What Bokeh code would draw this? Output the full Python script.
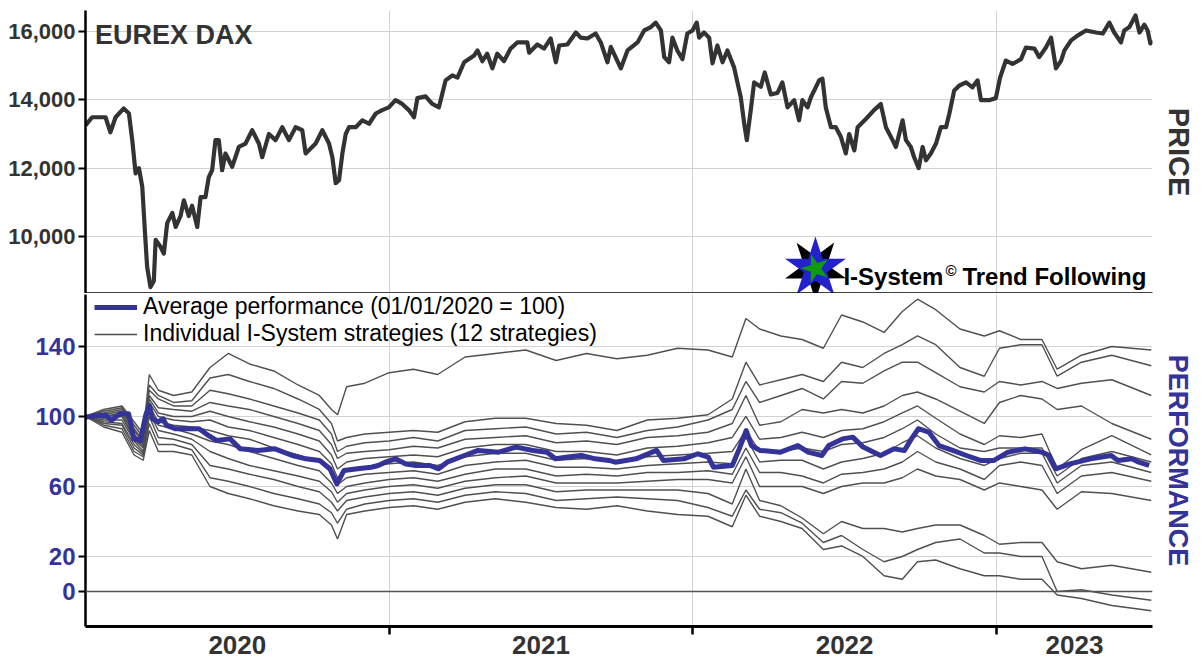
from bokeh.plotting import figure
from bokeh.models import (FixedTicker, LinearAxis, Range1d, Label, Span, Legend,
                          LegendItem, NumeralTickFormatter)
from bokeh.layouts import column
from bokeh.embed import file_html
from bokeh.resources import INLINE

# ---------------- DATA ----------------
price_t = [2020.000, 2020.022, 2020.066, 2020.082, 2020.099, 2020.126, 2020.143, 2020.154, 2020.165, 2020.176,
           2020.187, 2020.196, 2020.203, 2020.214, 2020.225, 2020.231, 2020.247, 2020.258, 2020.269, 2020.286,
           2020.297, 2020.313, 2020.324, 2020.340, 2020.351, 2020.368, 2020.379, 2020.395, 2020.406, 2020.417,
           2020.428, 2020.439, 2020.450, 2020.461, 2020.483, 2020.505, 2020.527, 2020.549, 2020.571, 2020.582,
           2020.604, 2020.626, 2020.648, 2020.670, 2020.692, 2020.714, 2020.725, 2020.758, 2020.780, 2020.802,
           2020.813, 2020.824, 2020.835, 2020.846, 2020.857, 2020.868, 2020.890, 2020.912, 2020.934, 2020.956,
           2020.977, 2020.999, 2021.021, 2021.043, 2021.065, 2021.082, 2021.093, 2021.120, 2021.142, 2021.164,
           2021.186, 2021.208, 2021.225, 2021.247, 2021.280, 2021.291, 2021.307, 2021.323, 2021.340, 2021.356,
           2021.378, 2021.400, 2021.422, 2021.455, 2021.461, 2021.488, 2021.510, 2021.532, 2021.549, 2021.560,
           2021.587, 2021.615, 2021.631, 2021.653, 2021.680, 2021.697, 2021.719, 2021.730, 2021.763, 2021.785,
           2021.818, 2021.840, 2021.862, 2021.878, 2021.895, 2021.906, 2021.922, 2021.933, 2021.949, 2021.966,
           2021.982, 2021.999, 2022.013, 2022.021, 2022.037, 2022.054, 2022.065, 2022.081, 2022.098, 2022.114,
           2022.136, 2022.147, 2022.158, 2022.171, 2022.178, 2022.191, 2022.202, 2022.224, 2022.237, 2022.257,
           2022.279, 2022.295, 2022.312, 2022.334, 2022.350, 2022.361, 2022.378, 2022.389, 2022.405, 2022.416,
           2022.427, 2022.438, 2022.455, 2022.471, 2022.488, 2022.504, 2022.515, 2022.532, 2022.543, 2022.570,
           2022.597, 2022.619, 2022.636, 2022.658, 2022.669, 2022.691, 2022.702, 2022.718, 2022.729, 2022.744,
           2022.757, 2022.768, 2022.784, 2022.801, 2022.817, 2022.834, 2022.845, 2022.861, 2022.878, 2022.900,
           2022.921, 2022.938, 2022.949, 2022.976, 2022.998, 2023.012, 2023.031, 2023.053, 2023.081, 2023.097,
           2023.125, 2023.141, 2023.163, 2023.180, 2023.196, 2023.213, 2023.224, 2023.246, 2023.267, 2023.295,
           2023.328, 2023.350, 2023.372, 2023.388, 2023.410, 2023.421, 2023.438, 2023.458, 2023.471, 2023.487,
           2023.498, 2023.507, 2023.514]
price_v = [13255, 13490, 13490, 13050, 13490, 13750, 13600, 12820, 11850, 12000,
           11450, 10100, 9110, 8520, 8700, 9900, 9700, 9500, 10390, 10690,
           10280, 10600, 11060, 10600, 10900, 10280, 11150, 11150, 11740, 11940,
           12820, 12820, 11940, 12430, 12040, 12620, 12720, 13110, 12720, 12320,
           13000, 12820, 13200, 12820, 13200, 13110, 12430, 12720, 13110, 12720,
           12320, 11560, 11650, 12430, 13000, 13200, 13200, 13400, 13300, 13600,
           13700, 13780, 13990, 13880, 13700, 13490, 14050, 14100, 13880, 13780,
           14570, 14715, 14650, 15100, 15300, 15445, 15130, 15350, 14920, 15350,
           15130, 15500, 15680, 15680, 15380, 15620, 15500, 15795, 15100, 15590,
           15620, 15970, 15820, 15795, 15940, 15680, 15100, 15550, 14920, 15445,
           15680, 16030, 16130, 16260, 16030, 15250, 15100, 15820, 15445, 15190,
           15940, 16030, 16260, 15820, 15970, 15820, 15070, 15590, 15100, 15445,
           14950, 14510, 14075, 13200, 12820, 13700, 14510, 14380, 14800, 14160,
           14200, 14510, 13780, 13990, 13400, 13990, 13780, 14075, 14365, 14570,
           14620, 13780, 13200, 13200, 12910, 12430, 13000, 12520, 13200, 13440,
           13700, 13880, 13200, 12820, 12620, 13400, 12820, 12620, 12320, 12000,
           12620, 12230, 12430, 12720, 13200, 13200, 13600, 14275, 14420, 14510,
           14365, 14570, 13990, 13990, 14050, 14650, 15150, 15050, 15190, 15530,
           15500, 15250, 15530, 15820, 14920, 15150, 15445, 15740, 15880, 16030,
           15970, 15940, 16260, 15970, 15680, 16030, 16130, 16470, 15970, 16200,
           16030, 15650, 15740]

avg_t = [2020.000, 2020.034, 2020.068, 2020.085, 2020.113, 2020.142, 2020.159, 2020.181, 2020.198, 2020.210,
         2020.221, 2020.238, 2020.255, 2020.267, 2020.295, 2020.340, 2020.374, 2020.397, 2020.431, 2020.476,
         2020.510, 2020.567, 2020.624, 2020.681, 2020.726, 2020.771, 2020.805, 2020.828, 2020.851, 2020.896,
         2020.941, 2020.964, 2020.987, 2021.021, 2021.055, 2021.089, 2021.134, 2021.163, 2021.191, 2021.248,
         2021.293, 2021.361, 2021.418, 2021.474, 2021.520, 2021.548, 2021.588, 2021.633, 2021.679, 2021.724,
         2021.745, 2021.813, 2021.881, 2021.903, 2021.971, 2022.017, 2022.051, 2022.068, 2022.130, 2022.153,
         2022.176, 2022.193, 2022.221, 2022.289, 2022.346, 2022.380, 2022.425, 2022.448, 2022.493, 2022.527,
         2022.561, 2022.618, 2022.663, 2022.697, 2022.720, 2022.743, 2022.777, 2022.811, 2022.856, 2022.901,
         2022.947, 2022.992, 2023.038, 2023.094, 2023.151, 2023.174, 2023.196, 2023.242, 2023.310, 2023.378,
         2023.400, 2023.446, 2023.469, 2023.503]
avg_v = [99.6, 100.6, 100.6, 97.7, 101.5, 101.5, 87.2, 86.3, 100.6, 106.3,
         98.7, 96.8, 98.7, 94.9, 93.0, 93.0, 93.0, 90.1, 86.3, 87.2,
         81.5, 80.6, 81.5, 77.7, 75.8, 74.9, 70.1, 61.5, 69.1, 70.1,
         71.0, 72.0, 73.9, 75.8, 72.9, 72.0, 72.0, 70.1, 73.9, 77.7,
         80.6, 79.6, 82.5, 80.6, 79.6, 75.8, 76.8, 77.7, 75.8, 74.9,
         73.9, 75.8, 80.6, 74.9, 75.8, 78.7, 76.8, 71.0, 72.0, 81.5,
         92.0, 83.4, 80.6, 79.6, 83.4, 79.6, 77.7, 83.4, 87.2, 88.2,
         82.5, 77.7, 81.5, 80.6, 87.2, 93.0, 91.1, 83.4, 80.6, 77.7,
         74.9, 74.9, 79.6, 81.5, 79.6, 77.7, 70.1, 72.9, 75.8, 77.7,
         74.9, 75.8, 73.9, 72.0]

strat_t = [2020.00, 2020.06, 2020.12, 2020.16, 2020.19, 2020.21, 2020.24, 2020.29, 2020.35, 2020.41,
           2020.47, 2020.54, 2020.62, 2020.70, 2020.77, 2020.81, 2020.83, 2020.86, 2020.92, 2021.00,
           2021.08, 2021.16, 2021.25, 2021.35, 2021.45, 2021.55, 2021.65, 2021.75, 2021.85, 2021.95,
           2022.05, 2022.13, 2022.175, 2022.22, 2022.29, 2022.36, 2022.43, 2022.49, 2022.56, 2022.63,
           2022.69, 2022.74, 2022.80, 2022.88, 2022.96, 2023.01, 2023.08, 2023.15, 2023.20, 2023.28,
           2023.38, 2023.51]
s1 = [100, 104, 106, 97, 90, 124, 115, 112, 114, 128, 136, 130, 126, 118, 112, 104, 101, 117, 119, 125,
      127, 124, 134, 136, 138, 132, 136, 133, 135, 139, 138, 134, 156, 150, 146, 144, 139, 158, 154, 148,
      160, 167, 161, 150, 146, 149, 144, 144, 127, 135, 140, 138]
s2 = [100, 103, 105, 95, 88, 118, 112, 108, 109, 122, 124, 120, 116, 110, 104, 96, 86, 88, 90, 91,
      92, 91, 97, 99, 99, 96, 95, 92, 98, 99, 101, 110, 131, 118, 121, 124, 120, 131, 128, 136,
      141, 146, 141, 128, 123, 139, 141, 141, 123, 131, 135, 129]
s3 = [100, 102, 104, 93, 86, 115, 110, 106, 106, 115, 113, 110, 106, 102, 98, 90, 80, 83, 85, 86,
      88, 86, 92, 93, 94, 90, 91, 88, 92, 94, 98, 104, 120, 108, 112, 116, 110, 120, 119, 126,
      131, 131, 125, 117, 114, 120, 118, 120, 116, 119, 121, 112]
s4 = [100, 101, 103, 92, 85, 112, 105, 104, 103, 108, 106, 104, 100, 96, 92, 84, 76, 79, 80, 81,
      83, 82, 87, 88, 89, 85, 86, 84, 88, 89, 91, 96, 112, 95, 97, 104, 102, 104, 102, 106,
      112, 114, 110, 103, 96, 108, 112, 110, 104, 106, 96, 87]
s5 = [100, 100, 102, 90, 84, 110, 102, 100, 100, 103, 100, 97, 94, 90, 86, 78, 70, 74, 76, 77,
      78, 77, 82, 84, 84, 80, 80, 78, 82, 83, 85, 88, 100, 87, 88, 91, 88, 92, 93, 97,
      102, 106, 99, 90, 84, 89, 88, 90, 70, 81, 89, 78]
s6 = [100, 100, 101, 88, 83, 108, 100, 98, 97, 98, 94, 92, 88, 84, 80, 73, 65, 69, 71, 73,
      74, 72, 77, 79, 79, 75, 76, 74, 77, 78, 79, 80, 92, 80, 80, 82, 80, 84, 85, 88,
      93, 98, 90, 82, 80, 82, 82, 82, 66, 76, 80, 74]
s7 = [100, 99, 100, 87, 82, 106, 97, 95, 94, 92, 89, 87, 82, 78, 74, 68, 61, 65, 67, 68,
      69, 67, 72, 74, 75, 71, 71, 70, 72, 73, 74, 73, 88, 74, 75, 75, 70, 74, 76, 79,
      85, 89, 82, 76, 72, 76, 79, 79, 62, 72, 74, 68]
s8 = [100, 98, 98, 86, 80, 104, 95, 93, 90, 86, 84, 80, 76, 72, 69, 62, 56, 60, 62, 64,
      65, 63, 67, 70, 70, 66, 67, 66, 68, 68, 69, 67, 82, 68, 68, 66, 62, 67, 68, 70,
      74, 80, 74, 70, 64, 72, 74, 72, 56, 66, 68, 63]
s9 = [100, 97, 96, 84, 79, 102, 92, 90, 87, 80, 76, 72, 69, 66, 63, 57, 51, 56, 58, 60,
      61, 59, 63, 65, 66, 62, 62, 62, 63, 64, 64, 62, 77, 60, 60, 60, 56, 60, 62, 62,
      65, 70, 66, 64, 58, 62, 60, 58, 47, 57, 56, 52]
s10 = [100, 96, 95, 82, 78, 100, 88, 87, 84, 72, 70, 67, 64, 60, 57, 51, 46, 52, 54, 56,
       57, 55, 59, 61, 61, 57, 58, 58, 58, 58, 56, 50, 70, 52, 49, 42, 33, 40, 36, 36,
       34, 36, 38, 38, 32, 27, 28, 28, 17, 13, 15, 11]
s11 = [100, 95, 93, 80, 77, 96, 84, 84, 81, 65, 63, 60, 56, 53, 50, 45, 39, 47, 50, 52,
       53, 51, 55, 57, 56, 52, 53, 54, 53, 52, 48, 43, 58, 47, 45, 39, 28, 32, 24, 17,
       20, 24, 28, 30, 22, 22, 20, 20, 0, 1, -2, -5]
s12 = [100, 94, 91, 78, 75, 92, 80, 80, 78, 60, 56, 53, 49, 46, 44, 38, 30, 44, 46, 48,
       49, 47, 51, 53, 51, 48, 47, 49, 46, 44, 43, 37, 55, 43, 40, 36, 24, 26, 20, 9,
       7, 17, 18, 13, 9, 9, 7, 7, -2, -4, -8, -11]
strategies = [s1, s2, s3, s4, s5, s6, s7, s8, s9, s10, s11, s12]

price_ticks = [10000, 12000, 14000, 16000]
perf_ticks = [0, 20, 60, 100, 140]
year_bounds = [2020, 2021, 2022, 2023]
year_labels = ["2020", "2021", "2022", "2023"]

# ---------------- STYLE ----------------
BOLDF = "'Liberation Sans', sans-serif"
X0, X1 = 2020.0, 2023.514
DARK = "#333333"
BLUE = "#333399"
GRID = "#d2d2d2"
FW = 1067
LEFT = 85


def style_left_axis(ax, color, size):
    ax.axis_line_color = "black"
    ax.axis_line_width = 2.5
    ax.major_tick_out = 7
    ax.major_tick_in = 0
    ax.major_tick_line_width = 2
    ax.major_tick_line_color = "black"
    ax.minor_tick_line_color = None
    ax.major_label_text_font = BOLDF
    ax.major_label_text_font_size = size
    ax.major_label_text_font_style = "bold"
    ax.major_label_text_color = color
    ax.major_label_standoff = 3


def add_side_label(p, text, color, size):
    ax = LinearAxis(ticker=FixedTicker(ticks=[]), axis_label=text)
    ax.axis_line_color = None
    ax.major_tick_line_color = None
    ax.minor_tick_line_color = None
    ax.major_label_text_font_size = "0px"
    ax.axis_label_text_font = BOLDF
    ax.axis_label_text_font_size = size
    ax.axis_label_text_font_style = "bold"
    ax.axis_label_text_color = color
    ax.axis_label_standoff = 10
    p.add_layout(ax, "right")


def logo_text(p, x, y, text, size):
    p.add_layout(Label(x=x, y=y, text=text, text_font=BOLDF, text_font_size=size,
                       text_font_style="bold", text_color="black", text_baseline="middle"))


# ---------------- TOP: PRICE ----------------
top = figure(frame_width=FW, frame_height=283, x_range=Range1d(X0, X1), y_range=Range1d(8331.7, 16614.6),
             output_backend="svg", toolbar_location=None, min_border_left=LEFT, min_border_top=10,
             min_border_bottom=0, min_border_right=0)
top.outline_line_color = None

top.line(price_t, price_v, line_color=DARK, line_width=4.2, line_join="round")

ya = top.yaxis[0]
ya.ticker = FixedTicker(ticks=price_ticks)
ya.formatter = NumeralTickFormatter(format="0,0")
style_left_axis(ya, DARK, "22px")
top.ygrid.grid_line_color = GRID
top.xgrid.ticker = FixedTicker(ticks=year_bounds[1:])
top.xgrid.grid_line_color = GRID

xa = top.xaxis[0]
xa.ticker = FixedTicker(ticks=[])
xa.axis_line_color = "black"
xa.axis_line_width = 2.5
xa.major_tick_line_color = None
xa.minor_tick_line_color = None
xa.major_tick_out = 0
xa.minor_tick_out = 0
xa.major_label_text_font_size = "0px"
xa.major_label_standoff = 0

add_side_label(top, "PRICE", DARK, "29px")

top.add_layout(Label(x=2020.031, y=15883, text="EUREX DAX", text_font=BOLDF, text_font_size="27px",
                     text_font_style="bold", text_color=DARK, text_baseline="alphabetic"))

# logo: star + "I-System(c) Trend Following"
lx, ly = 2022.404, 9063
top.scatter([lx], [ly], marker="star", size=64, angle=0.63, fill_color="black", line_color=None)
top.scatter([lx], [ly], marker="star", size=64, angle=0.0, fill_color="#2222cc", line_color=None)
top.scatter([lx], [ly], marker="star", size=30, angle=0.3, fill_color="#119911", line_color=None)
logo_text(top, 2022.496, 8829, "I-System", "24px")
logo_text(top, 2022.832, 9005, "\u00a9", "15px")
logo_text(top, 2022.888, 8829, "Trend Following", "24px")

# ---------------- BOTTOM: PERFORMANCE ----------------
bot = figure(frame_width=FW, frame_height=332, x_range=top.x_range, y_range=Range1d(-20, 169.7),
             output_backend="svg", toolbar_location=None, min_border_left=LEFT, min_border_top=1,
             min_border_bottom=34, min_border_right=0)
bot.outline_line_color = None

yb = bot.yaxis[0]
yb.ticker = FixedTicker(ticks=perf_ticks)
style_left_axis(yb, BLUE, "24px")
bot.ygrid.grid_line_color = GRID
bot.xgrid.ticker = FixedTicker(ticks=year_bounds[1:])
bot.xgrid.grid_line_color = GRID
bot.add_layout(Span(location=0, dimension="width", line_color="#555555", line_width=1.5))

bounds = year_bounds + [X1]
label_pos = [(a + b) / 2 for a, b in zip(bounds[:-1], bounds[1:])]
xb = bot.xaxis[0]
xb.ticker = FixedTicker(ticks=label_pos, minor_ticks=year_bounds[1:])
xb.major_label_overrides = {pos: lab for pos, lab in zip(label_pos, year_labels)}
xb.axis_line_color = "black"
xb.axis_line_width = 3
xb.major_tick_out = 0
xb.major_tick_in = 0
xb.major_tick_line_color = None
xb.minor_tick_out = 8
xb.minor_tick_in = 0
xb.minor_tick_line_width = 2.5
xb.minor_tick_line_color = "black"
xb.major_label_text_font = BOLDF
xb.major_label_text_font_size = "26px"
xb.major_label_text_font_style = "bold"
xb.major_label_text_color = DARK
xb.major_label_standoff = 1

strat_renderers = []
for s in strategies:
    r = bot.line(strat_t, s, line_color="#505050", line_width=1.4)
    strat_renderers.append(r)
avg_r = bot.line(avg_t, avg_v, line_color=BLUE, line_width=5, line_join="round")

add_side_label(bot, "PERFORMANCE", BLUE, "27px")

legend = Legend(items=[LegendItem(label="Average performance (01/01/2020 = 100)", renderers=[avg_r]),
                       LegendItem(label="Individual I-System strategies (12 strategies)",
                                  renderers=[strat_renderers[0]])],
                location=(9, 279))
legend.border_line_color = None
legend.background_fill_alpha = 0
legend.label_text_font = "Liberation Sans"
legend.label_text_font_size = "23px"
legend.label_text_color = "black"
legend.glyph_width = 43
legend.glyph_height = 20
legend.label_height = 20
legend.label_standoff = 6
legend.spacing = 0
legend.padding = 0
legend.margin = 0
bot.add_layout(legend)

layout = column(top, bot)
open("out.html", "w").write(file_html(layout, INLINE))
